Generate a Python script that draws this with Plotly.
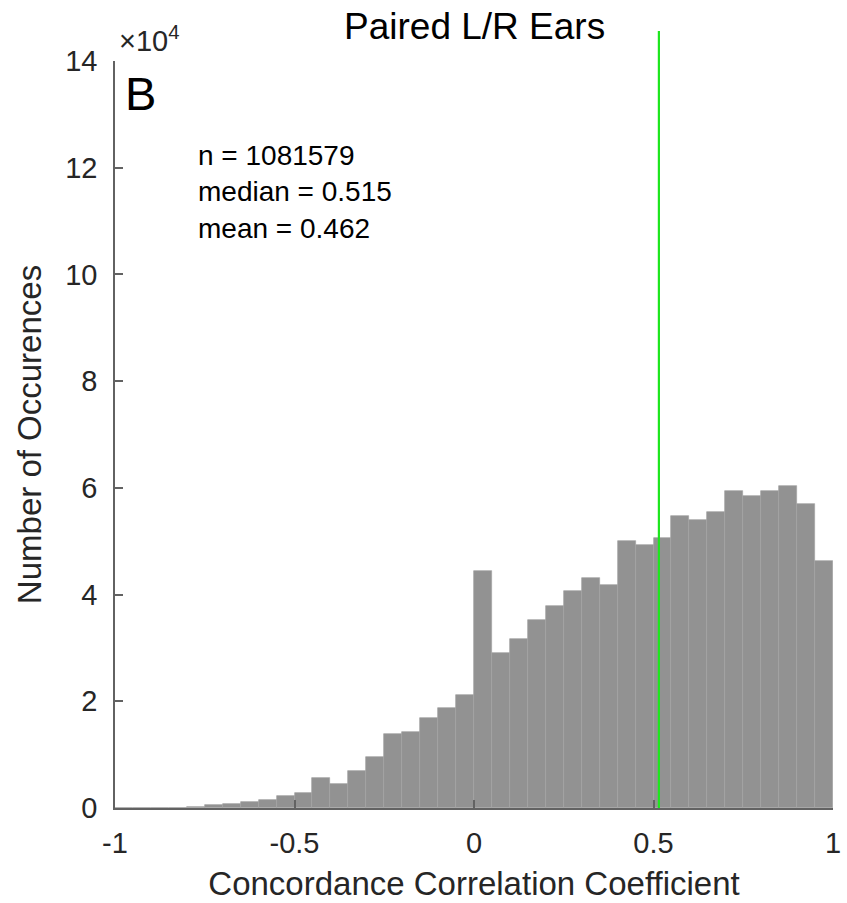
import plotly.graph_objects as go

# Histogram of concordance correlation coefficients, bin width 0.05 on [-1, 1]
bin_left = [-1.00, -0.95, -0.90, -0.85, -0.80, -0.75, -0.70, -0.65, -0.60, -0.55,
            -0.50, -0.45, -0.40, -0.35, -0.30, -0.25, -0.20, -0.15, -0.10, -0.05,
            0.00, 0.05, 0.10, 0.15, 0.20, 0.25, 0.30, 0.35, 0.40, 0.45,
            0.50, 0.55, 0.60, 0.65, 0.70, 0.75, 0.80, 0.85, 0.90, 0.95]
counts = [0, 10, 30, 90, 250, 500, 810, 1060, 1560, 2310,
          2810, 5690, 4440, 6940, 9620, 13870, 14250, 16930, 18680, 21120,
          44420, 29130, 31620, 35240, 37800, 40680, 43180, 41740, 49990, 49370,
          50550, 54800, 53930, 55550, 59420, 58550, 59420, 60300, 56980, 46240]
bin_width = 0.05

n_total = 1081579
median_val = 0.515
mean_val = 0.462

y_tickvals = [0, 20000, 40000, 60000, 80000, 100000, 120000, 140000]
y_ticktext = ["0", "2", "4", "6", "8", "10", "12", "14"]
x_tickvals = [-1, -0.5, 0, 0.5, 1]
x_ticktext = ["-1", "-0.5", "0", "0.5", "1"]

FONT = "Liberation Sans, Arial, Helvetica, sans-serif"
TXT = "#262626"
AX = "#626262"

centers = [b + bin_width / 2 for b in bin_left]

fig = go.Figure()
fig.add_trace(go.Bar(
    x=centers, y=counts, width=bin_width,
    marker=dict(color="#929292", line=dict(color="#a4a4a4", width=0.7)),
    hoverinfo="x+y", showlegend=False,
))

# median marker line, extending a little above the axes
fig.add_shape(type="line", xref="x", yref="paper",
              x0=median_val, x1=median_val, y0=0, y1=1.04,
              line=dict(color="#1ee61e", width=2.2), layer="above")

fig.update_layout(
    width=847, height=903,
    margin=dict(l=115, r=14, t=61, b=95),
    plot_bgcolor="white", paper_bgcolor="white",
    bargap=0,
    font=dict(family=FONT, color=TXT, size=29),
    xaxis=dict(
        range=[-1, 1], tickvals=x_tickvals, ticktext=x_ticktext,
        automargin=False,
        ticks="inside", ticklen=8, tickwidth=1.5, tickcolor=AX,
        showline=True, linecolor=AX, linewidth=1.6,
        showgrid=False, zeroline=False,
        tickfont=dict(size=29, color=TXT),
        ticklabelstandoff=8,
        title=dict(text="Concordance Correlation Coefficient",
                   font=dict(size=33, color=TXT), standoff=14),
    ),
    yaxis=dict(
        range=[0, 140000], tickvals=y_tickvals, ticktext=y_ticktext,
        automargin=False,
        ticks="inside", ticklen=8, tickwidth=1.5, tickcolor=AX,
        showline=True, linecolor=AX, linewidth=1.6,
        showgrid=False, zeroline=False,
        tickfont=dict(size=29, color=TXT),
        ticklabelstandoff=10,
        title=dict(text="Number of Occurences",
                   font=dict(size=33, color=TXT), standoff=14),
    ),
    annotations=[
        dict(text="Paired L/R Ears", xref="paper", yref="paper",
             x=0.5, y=1.046, xanchor="center", yanchor="middle",
             showarrow=False, font=dict(size=37, color="black")),
        dict(text="×10<sup>4</sup>", xref="paper", yref="paper",
             x=0.003, y=1.003, xanchor="left", yanchor="bottom",
             showarrow=False, font=dict(size=29, color=TXT)),
        dict(text="B", xref="paper", yref="paper",
             x=0.011, y=0.956, xanchor="left", yanchor="middle",
             showarrow=False, font=dict(size=47, color="black")),
        dict(text=(f"n = {n_total}<br>median = {median_val:.3f}"
                   f"<br>mean = {mean_val:.3f}"),
             xref="paper", yref="paper",
             x=0.113, y=0.825, xanchor="left", yanchor="middle",
             align="left", showarrow=False,
             font=dict(size=28, color="black")),
    ],
)

fig.write_html("out.html")
